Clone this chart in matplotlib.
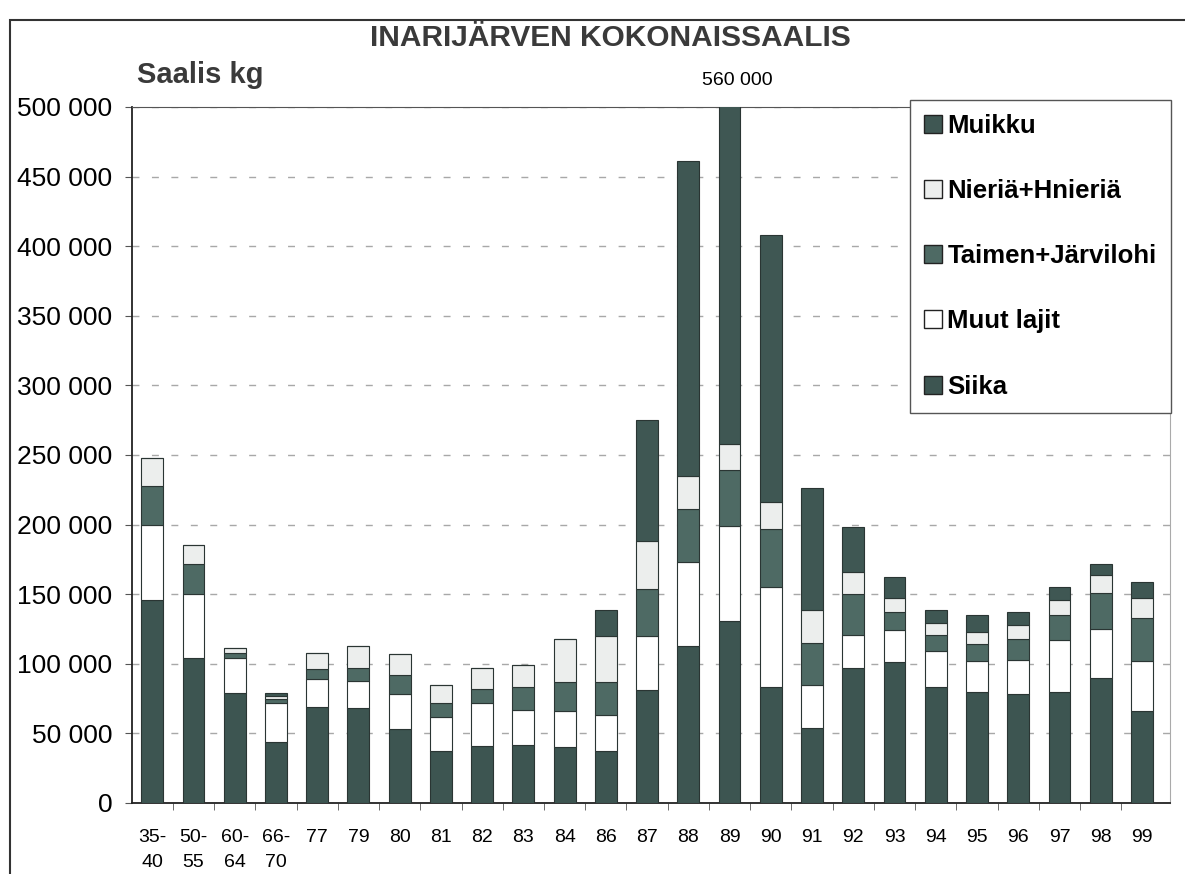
import matplotlib
matplotlib.use("Agg")
import matplotlib.pyplot as plt
from matplotlib.patches import Patch, Rectangle
from matplotlib.ticker import FuncFormatter, FixedLocator
import numpy as np

plt.rcParams['font.family'] = ['Liberation Sans', 'DejaVu Sans']

categories = ["35-\n40", "50-\n55", "60-\n64", "66-\n70", "77", "79", "80", "81", "82",
              "83", "84", "86", "87", "88", "89", "90", "91", "92", "93", "94", "95",
              "96", "97", "98", "99"]
siika = [146000, 104000, 79000, 44000, 69000, 68000, 53000, 37000, 41000, 42000, 40000,
         37000, 81000, 113000, 131000, 83000, 54000, 97000, 101000, 83000, 80000, 78000,
         80000, 90000, 66000]
muut = [54000, 46000, 25000, 28000, 20000, 20000, 25000, 25000, 31000, 25000, 26000,
        26000, 39000, 60000, 68000, 72000, 31000, 24000, 23000, 26000, 22000, 25000,
        37000, 35000, 36000]
taimen = [28000, 22000, 4000, 3000, 7000, 9000, 14000, 10000, 10000, 16000, 21000,
          24000, 34000, 38000, 40000, 42000, 30000, 29000, 13000, 12000, 12000, 15000,
          18000, 26000, 31000]
nieria = [20000, 13000, 3000, 2000, 12000, 16000, 15000, 13000, 15000, 16000, 31000,
          33000, 34000, 24000, 19000, 19000, 24000, 16000, 10000, 8000, 9000, 10000,
          11000, 13000, 14000]
muikku = [0, 0, 0, 2000, 0, 0, 0, 0, 0, 0, 0, 19000, 87000, 226000, 302000, 192000,
          87000, 32000, 15000, 10000, 12000, 9000, 9000, 8000, 12000]
yticks = [0, 50000, 100000, 150000, 200000, 250000, 300000, 350000, 400000, 450000, 500000]
peak_label = "560 000"

series = [("Siika", siika, "#3d5551"),
          ("Muut lajit", muut, "#ffffff"),
          ("Taimen+Järvilohi", taimen, "#4e6a64"),
          ("Nieriä+Hnieriä", nieria, "#eceeed"),
          ("Muikku", muikku, "#3f5753")]

fig = plt.figure(figsize=(11.85, 8.74), dpi=100)
ax = fig.add_axes([132/1185, 1-803/874, (1170-132)/1185, (803-107)/874])

x = np.arange(len(categories))
bottom = np.zeros(len(categories))
for name, vals, col in series:
    v = np.array(vals, dtype=float)
    ax.bar(x, v, bottom=bottom, width=0.53, color=col, edgecolor="#2a3533",
           linewidth=0.8, zorder=3)
    bottom += v

ax.set_ylim(0, 500000)
ax.set_xlim(-0.49, len(categories) - 0.32)
ax.set_yticks(yticks)
ax.yaxis.set_major_formatter(FuncFormatter(lambda v, p: f"{int(v):,}".replace(",", " ")))
ax.set_xticks(x)
ax.set_xticklabels(categories)
ax.xaxis.set_minor_locator(FixedLocator(x[:-1] + 0.5))
ax.tick_params(axis='x', which='major', length=0, labelsize=14, pad=19)
ax.tick_params(axis='x', which='minor', length=5, color="#555555")
ax.tick_params(axis='y', length=5, labelsize=19, pad=9, color="#555555")
for lab in ax.get_xticklabels():
    lab.set_linespacing(1.55)

ax.yaxis.grid(True, linestyle=(0, (5, 9)), color="#a8a8a8", linewidth=1.0, zorder=0)
for s in ['left', 'bottom']:
    ax.spines[s].set_color("#222222")
    ax.spines[s].set_linewidth(1.3)
ax.spines['top'].set_color("#555555")
ax.spines['right'].set_color("#aaaaaa")

# peak label
ax.text(14.2, 519000, peak_label, ha='center', va='center', fontsize=14,
        clip_on=False)

fig.text(610/1185, 1-38/874, "INARIJÄRVEN KOKONAISSAALIS", ha='center', va='center',
         fontsize=21.5, fontweight='bold', color="#3a3a3a")
fig.text(137/1185, 1-75/874, "Saalis kg", ha='left', va='center',
         fontsize=21, fontweight='bold', color="#3a3a3a")

handles = [Patch(facecolor=col, edgecolor="#222222", linewidth=1.0, label=name)
           for name, vals, col in reversed(series)]
leg = fig.legend(handles=handles, loc='upper left',
                 bbox_to_anchor=(910/1185, 1-100/874),
                 prop={'weight': 'bold', 'size': 18.5}, frameon=True, fancybox=False,
                 edgecolor="#555555", labelspacing=1.6, handlelength=0.7,
                 handleheight=0.7, handletextpad=0.2, borderpad=0.55,
                 borderaxespad=0, framealpha=1)
leg.get_frame().set_linewidth(1.0)
leg.set_zorder(10)

# outer frame
fig.add_artist(Rectangle((10/1185, -0.01), 1.02, 1-20/874 + 0.01,
                         transform=fig.transFigure, fill=False,
                         edgecolor="#333333", linewidth=1.5))

fig.savefig("out.png", dpi=100, facecolor="white")
